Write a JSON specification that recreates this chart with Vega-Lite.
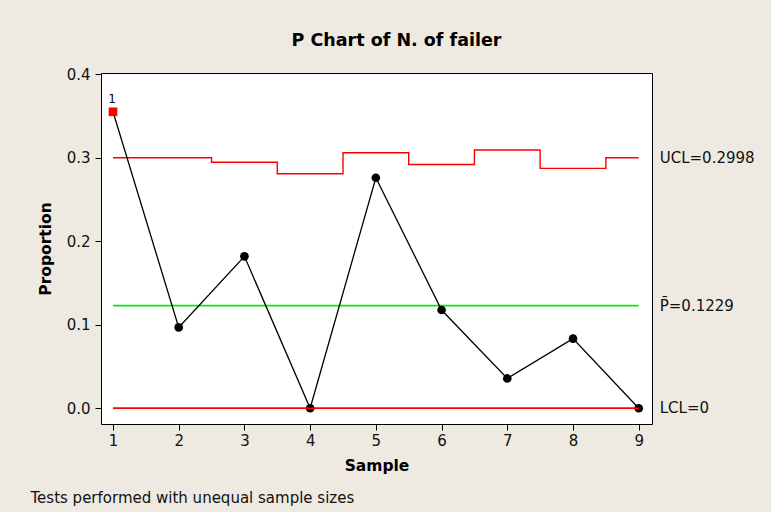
{
  "$schema": "https://vega.github.io/schema/vega-lite/v6.json",
  "width": 551,
  "height": 351,
  "autosize": {"type": "none"},
  "padding": {"left": 101, "top": 73, "right": 119, "bottom": 88},
  "background": "#eeeae1",
  "title": {
    "text": "P Chart of N. of failer",
    "font": "DejaVu Sans",
    "fontSize": 17.5,
    "fontWeight": "bold",
    "color": "black",
    "anchor": "middle",
    "frame": "group",
    "dx": 20,
    "baseline": "alphabetic",
    "offset": 4
  },
  "config": {
    "view": {"fill": "white", "stroke": "black", "strokeWidth": 1},
    "axis": {
      "grid": false,
      "domain": false,
      "tickColor": "black",
      "tickSize": 6,
      "labelFont": "DejaVu Sans",
      "labelFontSize": 15,
      "labelColor": "#111111",
      "titleFont": "DejaVu Sans",
      "titleFontSize": 15.5,
      "titleFontWeight": "bold",
      "titleColor": "black"
    }
  },
  "datasets": {
    "samples": [
      {"sample": 1, "proportion": 0.3548, "ucl": 0.2998, "out": true, "test": "1"},
      {"sample": 2, "proportion": 0.0968, "ucl": 0.2998, "out": false, "test": ""},
      {"sample": 3, "proportion": 0.1818, "ucl": 0.2944, "out": false, "test": ""},
      {"sample": 4, "proportion": 0.0, "ucl": 0.2806, "out": false, "test": ""},
      {"sample": 5, "proportion": 0.2759, "ucl": 0.3058, "out": false, "test": ""},
      {"sample": 6, "proportion": 0.1176, "ucl": 0.2918, "out": false, "test": ""},
      {"sample": 7, "proportion": 0.0357, "ucl": 0.309, "out": false, "test": ""},
      {"sample": 8, "proportion": 0.0833, "ucl": 0.2871, "out": false, "test": ""},
      {"sample": 9, "proportion": 0.0, "ucl": 0.2998, "out": false, "test": ""}
    ],
    "limits": [
      {"start": 1, "end": 9, "value": 0.2998, "kind": "UCL", "label": "UCL=0.2998"},
      {"start": 1, "end": 9, "value": 0.1229, "kind": "center", "label": "P\u0304=0.1229"},
      {"start": 1, "end": 9, "value": 0, "kind": "LCL", "label": "LCL=0"}
    ]
  },
  "layer": [
    {
      "layer": [
        {
          "data": {"name": "samples"},
          "mark": {"type": "line", "interpolate": "step", "color": "#ff0000", "strokeWidth": 1.4},
          "encoding": {
            "x": {
              "field": "sample", "type": "quantitative",
              "scale": {"domain": [0.8175, 9.202], "nice": false, "zero": false},
              "axis": {"values": [1, 2, 3, 4, 5, 6, 7, 8, 9], "format": "d", "title": "Sample", "labelPadding": 3, "titlePadding": 10}
            },
            "y": {
              "field": "ucl", "type": "quantitative",
              "scale": {"domain": [-0.0188, 0.4012], "nice": false, "zero": false},
              "axis": {"values": [0, 0.1, 0.2, 0.3, 0.4], "format": ".1f", "title": "Proportion", "labelPadding": 5, "titlePadding": 13}
            }
          }
        },
        {
          "data": {"name": "limits"},
          "transform": [{"filter": "datum.kind === 'center'"}],
          "mark": {"type": "rule", "color": "#00ee00", "strokeWidth": 1.6},
          "encoding": {
            "x": {"field": "start", "type": "quantitative"},
            "x2": {"field": "end"},
            "y": {"field": "value", "type": "quantitative"}
          }
        },
        {
          "data": {"name": "limits"},
          "transform": [{"filter": "datum.kind === 'LCL'"}],
          "mark": {"type": "rule", "color": "#ff0000", "strokeWidth": 1.4},
          "encoding": {
            "x": {"field": "start", "type": "quantitative"},
            "x2": {"field": "end"},
            "y": {"field": "value", "type": "quantitative"}
          }
        },
        {
          "data": {"name": "samples"},
          "mark": {"type": "line", "color": "black", "strokeWidth": 1.3},
          "encoding": {
            "x": {"field": "sample", "type": "quantitative"},
            "y": {"field": "proportion", "type": "quantitative"}
          }
        },
        {
          "data": {"name": "samples"},
          "transform": [{"filter": "!datum.out"}],
          "mark": {"type": "point", "shape": "circle", "filled": true, "opacity": 1, "size": 75, "color": "black"},
          "encoding": {
            "x": {"field": "sample", "type": "quantitative"},
            "y": {"field": "proportion", "type": "quantitative"}
          }
        },
        {
          "data": {"name": "samples"},
          "transform": [{"filter": "datum.out"}],
          "mark": {"type": "point", "shape": "square", "filled": true, "opacity": 1, "size": 75, "color": "#ff0000"},
          "encoding": {
            "x": {"field": "sample", "type": "quantitative"},
            "y": {"field": "proportion", "type": "quantitative"}
          }
        },
        {
          "data": {"name": "samples"},
          "transform": [{"filter": "datum.out"}],
          "mark": {"type": "text", "font": "DejaVu Sans", "fontSize": 12, "fill": "black", "baseline": "alphabetic", "align": "center", "dx": -1, "dy": -9},
          "encoding": {
            "x": {"field": "sample", "type": "quantitative"},
            "y": {"field": "proportion", "type": "quantitative"},
            "text": {"field": "test"}
          }
        },
        {
          "data": {"name": "limits"},
          "mark": {"type": "text", "font": "DejaVu Sans", "fontSize": 15, "color": "#111111", "align": "left", "baseline": "middle", "dx": 21, "clip": false},
          "encoding": {
            "x": {"field": "end", "type": "quantitative"},
            "y": {"field": "value", "type": "quantitative"},
            "text": {"field": "label"}
          }
        }
      ]
    },
    {
      "data": {"name": "limits"},
      "transform": [{"filter": "datum.kind === 'LCL'"}],
      "mark": {"type": "rule", "color": "#ff0000", "strokeWidth": 1.4},
      "encoding": {
        "x": {
          "field": "start", "type": "quantitative",
          "scale": {"domain": [0.8175, 9.202], "nice": false, "zero": false},
          "axis": {
            "orient": "bottom",
            "title": "Tests performed with unequal sample sizes",
            "labels": false,
            "ticks": false,
            "domain": false,
            "titleFont": "DejaVu Sans",
            "titleFontSize": 15,
            "titleFontWeight": "normal",
            "titleColor": "#111111",
            "titleAlign": "left",
            "titleAnchor": "start",
            "titleBaseline": "alphabetic",
            "titleX": -71,
            "titleY": 78
          }
        },
        "x2": {"field": "end"},
        "y": {"field": "value", "type": "quantitative"}
      }
    }
  ],
  "resolve": {"scale": {"x": "independent"}, "axis": {"x": "independent"}}
}
